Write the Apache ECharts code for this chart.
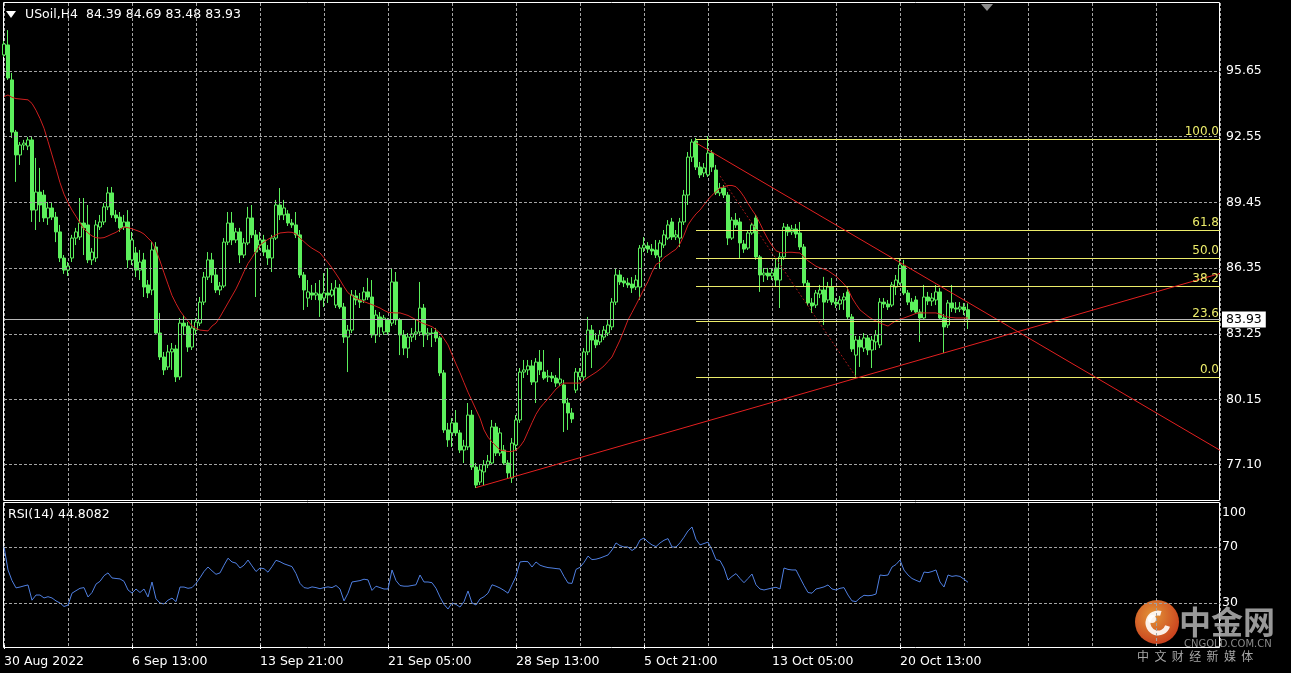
<!DOCTYPE html>
<html><head><meta charset="utf-8">
<script src="https://cdn.jsdelivr.net/npm/echarts@6.0.0/dist/echarts.min.js"></script>
<style>html,body{margin:0;padding:0;background:#000;overflow:hidden}#c{width:1291px;height:673px}</style>
</head><body><div id="c"></div>
<script>
const symbolTitle = 'USoil,H4  84.39 84.69 83.48 83.93';
const rsiTitle = 'RSI(14) 44.8082';
const tickLabels = ['30 Aug 2022','6 Sep 13:00','13 Sep 21:00','21 Sep 05:00','28 Sep 13:00','5 Oct 21:00','13 Oct 05:00','20 Oct 13:00'];
const barsPerLabel = 32;
const barsPerGrid = 16;
const totalSlots = 305;
const priceTicks = [95.65, 92.55, 89.45, 86.35, 83.25, 80.15, 77.10];
const rsiTicks = [100, 70, 30];
const rsiLevels = [70, 30];
const lastPrice = 83.93;
// [open, high, low, close]
const ohlc = [
[96.41,97.07,96.31,96.92],[96.88,97.58,95.23,95.32],[95.23,95.56,92.49,92.77],[92.77,92.87,90.42,91.69],[91.69,92.30,91.22,92.16],
[92.16,92.40,91.92,92.25],[92.11,92.54,91.92,92.40],[92.40,92.54,88.53,89.09],[89.09,91.55,88.15,89.94],[89.94,91.08,88.53,89.33],
[89.80,90.04,88.53,88.72],[88.72,89.47,88.39,89.19],[89.19,89.42,88.62,88.76],[88.76,89.00,87.58,88.06],[88.06,88.39,86.64,86.83],
[86.83,86.97,86.08,86.26],[86.26,86.64,85.98,86.45],[86.83,87.92,86.64,87.77],[87.77,88.25,87.44,88.06],[87.82,89.66,87.68,88.48],
[88.48,89.66,86.97,88.25],[88.39,89.33,86.59,86.74],[86.74,87.30,86.50,87.11],[86.83,88.62,86.64,88.39],[88.29,88.86,88.15,88.53],
[88.53,89.42,88.39,89.24],[89.24,90.18,89.09,89.90],[89.90,90.18,88.72,88.86],[88.86,89.09,88.53,88.72],[88.76,89.00,88.06,88.25],
[88.29,88.86,88.15,88.53],[88.53,89.09,86.36,86.74],[86.74,88.06,86.50,87.68],[87.07,87.35,85.93,86.26],[86.26,87.21,85.79,86.64],
[86.74,87.07,84.99,85.46],[85.56,85.79,84.94,85.18],[85.32,87.58,85.08,87.21],[87.35,87.58,83.20,83.29],[83.29,84.24,82.02,82.16],
[82.16,82.40,81.31,81.55],[81.69,82.73,81.55,82.40],[82.40,82.82,81.55,82.54],[82.54,82.73,80.98,81.22],[81.22,84.00,81.08,83.76],
[83.76,84.14,83.20,83.62],[83.62,83.81,82.40,82.63],[82.63,83.91,82.49,83.53],[83.43,84.00,83.20,83.81],[83.76,84.99,83.62,84.75],
[84.75,86.17,84.61,85.93],[85.93,87.11,85.79,86.74],[86.74,87.07,85.65,86.03],[86.03,86.36,85.18,85.32],[85.32,85.70,85.08,85.51],
[85.51,87.77,85.42,87.58],[87.58,89.00,87.44,88.48],[88.48,89.00,87.44,87.68],[87.68,88.25,87.54,88.06],[88.06,88.25,86.59,86.97],
[86.97,87.77,86.83,87.54],[87.54,89.24,87.44,88.72],[88.72,89.33,87.77,87.92],[87.92,88.15,84.99,87.11],[87.44,88.06,87.21,87.68],
[87.68,87.92,86.92,87.11],[87.21,87.44,86.50,86.83],[86.83,87.92,86.17,87.77],[87.77,89.57,87.68,89.33],[89.33,90.13,88.62,88.86],
[88.86,89.57,88.62,89.19],[88.91,89.09,88.34,88.48],[88.48,88.67,88.25,88.39],[88.39,89.00,87.77,87.92],[87.92,88.15,85.89,86.03],
[86.03,86.17,84.38,85.32],[84.94,85.79,84.52,85.23],[85.18,85.56,84.85,85.08],[85.08,85.65,84.85,85.18],[85.13,85.79,84.05,84.85],
[84.94,86.12,84.52,85.18],[85.18,86.36,84.71,85.08],[85.08,85.65,84.99,85.32],[84.61,85.79,84.47,85.42],[85.42,85.60,84.42,84.52],
[84.52,84.71,82.82,83.10],[83.10,83.67,81.45,83.43],[83.43,85.32,83.29,85.08],[85.04,85.32,84.61,84.85],[84.85,85.18,84.47,84.75],
[84.85,85.46,84.71,85.23],[85.23,85.89,84.85,84.99],[84.99,85.79,83.06,83.20],[83.20,84.38,82.82,84.14],[84.05,84.28,83.10,83.58],
[83.34,84.14,83.20,84.00],[83.91,84.00,83.20,83.34],[83.76,86.36,83.62,85.70],[85.70,86.17,83.67,83.91],[83.91,84.00,82.25,83.20],
[83.20,83.43,82.25,82.58],[82.58,83.29,82.11,83.10],[83.10,83.53,82.87,83.25],[83.25,83.91,82.96,83.34],[83.34,85.70,83.15,84.47],
[84.47,84.66,82.63,83.20],[83.20,83.53,82.96,83.29],[83.29,83.53,82.63,83.27],[83.34,83.53,82.87,83.06],[83.06,83.15,81.26,81.41],
[81.41,81.55,78.58,78.72],[78.72,79.05,77.92,78.25],[78.58,79.28,77.92,79.05],[79.05,79.66,78.43,78.58],[78.58,78.72,77.63,77.77],
[77.77,78.25,77.16,77.96],[77.92,79.99,77.77,79.42],[79.42,79.66,76.83,76.97],[76.97,77.16,75.98,76.12],[76.26,77.07,76.12,76.83],
[76.74,77.30,76.12,77.07],[77.07,77.54,76.92,77.25],[77.16,79.19,77.07,78.86],[78.86,79.05,77.49,77.63],[77.63,78.81,77.49,78.58],
[77.77,78.01,77.07,77.16],[77.16,77.30,76.45,76.69],[76.45,78.34,76.22,78.10],[78.01,79.42,77.77,79.19],[79.19,81.64,79.05,81.45],
[81.45,82.02,81.17,81.55],[81.55,82.02,81.31,81.74],[81.74,82.02,80.84,80.98],[80.98,82.11,79.99,81.92],[81.92,82.49,81.31,81.55],
[81.45,82.49,81.08,81.17],[81.22,81.55,80.98,81.26],[81.26,81.45,80.98,81.17],[81.17,81.31,80.75,80.93],[80.93,82.11,80.79,81.12],
[80.84,81.08,78.62,79.99],[79.99,80.23,78.72,79.52],[79.52,79.75,79.05,79.24],[80.60,81.64,80.46,81.45],[81.22,81.64,81.08,81.45],
[81.22,82.58,81.08,82.40],[82.40,84.05,82.25,83.43],[83.43,83.67,81.64,82.96],[82.96,83.29,82.58,82.73],[82.87,83.43,82.73,83.20],
[83.10,83.62,82.96,83.43],[83.29,83.91,83.15,83.67],[83.58,84.94,83.43,84.75],[84.75,86.36,84.61,86.03],[86.03,86.26,85.56,85.70],
[85.75,85.93,85.46,85.65],[85.65,85.89,85.42,85.56],[85.60,85.93,85.18,85.42],[85.46,86.03,85.32,85.79],[85.46,87.44,84.85,87.30],
[87.30,87.82,87.11,87.44],[87.40,87.58,87.07,87.25],[87.25,87.49,86.97,87.16],[87.21,87.68,86.83,86.97],[86.88,87.68,86.36,87.54],
[87.44,88.15,87.30,87.92],[87.77,88.62,87.68,88.39],[88.53,88.72,87.68,87.82],[87.82,88.15,87.68,87.92],[87.77,88.72,87.35,88.53],
[88.53,90.04,88.39,89.80],[89.80,91.83,89.33,91.59],[91.59,92.44,91.36,92.30],[92.35,92.49,90.98,91.12],[91.12,91.36,90.60,90.75],
[90.84,91.31,90.65,91.08],[90.75,92.58,90.65,91.78],[91.78,91.92,90.89,91.12],[90.98,91.22,89.80,89.90],[89.90,90.37,89.75,90.13],
[90.13,90.27,89.66,89.80],[89.80,89.94,87.44,87.77],[87.77,88.76,87.68,88.62],[88.62,88.95,88.25,88.39],[88.53,88.72,86.83,87.54],
[87.49,87.68,87.07,87.25],[87.30,88.15,87.21,88.01],[88.01,88.48,87.92,88.39],[88.72,88.86,86.74,86.88],[86.88,86.97,85.23,86.03],
[86.03,86.36,85.70,86.12],[86.12,86.36,85.79,85.98],[85.98,86.36,85.79,86.12],[86.36,86.83,85.46,85.79],[85.79,87.11,84.47,86.88],
[86.88,88.48,86.74,88.29],[88.29,88.43,87.87,88.06],[88.06,88.39,87.92,88.20],[88.20,88.43,87.77,87.96],[88.01,88.53,87.21,87.35],
[87.35,87.49,85.51,85.65],[85.65,85.79,84.57,84.71],[84.71,84.94,84.24,84.57],[84.61,85.32,84.47,85.18],[85.13,85.56,84.94,85.32],
[85.32,85.94,83.67,84.75],[84.85,85.70,84.71,85.46],[85.46,85.89,84.61,84.75],[84.75,84.94,84.47,84.66],[84.66,85.04,84.38,84.85],
[84.85,85.18,84.38,84.99],[85.23,85.46,83.91,84.05],[84.05,84.19,82.40,82.54],[82.25,83.15,81.22,82.96],[82.96,83.15,81.69,82.63],
[82.58,83.29,82.40,83.06],[83.06,83.20,82.25,82.49],[82.49,83.15,81.64,82.96],[82.87,83.43,82.49,83.20],[82.73,84.94,82.58,84.75],
[84.75,84.94,84.47,84.66],[84.66,84.85,84.38,84.52],[84.61,85.70,84.52,85.56],[85.46,86.03,85.08,85.79],[85.65,86.83,85.56,86.50],
[86.45,86.74,85.08,85.18],[85.18,85.32,84.61,84.75],[84.75,84.94,84.28,84.38],[84.85,85.04,84.19,84.28],[84.28,84.42,82.87,84.00],
[84.00,85.56,83.91,84.99],[84.99,85.23,84.61,84.80],[84.80,85.18,84.57,84.94],[84.85,85.56,84.61,85.23],[85.23,85.42,83.91,84.00],
[84.00,84.19,82.35,83.58],[83.67,84.85,83.53,84.71],[84.71,85.56,84.28,84.47],[84.47,84.75,84.24,84.42],[84.42,84.75,84.28,84.52],
[84.52,84.71,84.14,84.38],[84.39,84.69,83.48,83.93]
];
const ma = [
94.44,94.52,94.41,94.35,94.33,94.31,94.29,94.12,93.80,93.41,
92.95,92.33,91.69,91.05,90.38,89.84,89.44,89.09,88.79,88.48,
88.20,88.01,87.87,87.79,87.77,87.79,87.87,87.96,88.04,88.17,
88.29,88.26,88.21,88.14,88.07,87.96,87.77,87.58,87.21,86.69,
86.13,85.59,85.06,84.68,84.34,84.08,83.86,83.63,83.51,83.43,
83.41,83.39,83.62,83.76,84.05,84.38,84.71,85.04,85.37,85.77,
86.19,86.57,86.85,87.15,87.44,87.58,87.71,87.82,87.92,88.01,
88.03,88.05,88.04,87.96,87.77,87.60,87.43,87.29,87.18,87.07,
86.84,86.61,86.36,86.08,85.79,85.47,85.19,85.05,84.92,84.85,
84.77,84.70,84.63,84.55,84.47,84.36,84.27,84.25,84.24,84.24,
84.18,84.12,84.02,83.92,83.81,83.73,83.66,83.59,83.45,83.29,
83.02,82.73,82.27,81.83,81.41,80.95,80.50,80.09,79.68,79.28,
78.72,78.38,78.15,77.96,77.77,77.74,77.70,77.71,77.76,77.94,
78.21,78.64,79.06,79.46,79.76,79.98,80.19,80.42,80.65,80.81,
80.93,80.93,80.93,80.93,80.93,81.07,81.20,81.32,81.44,81.58,
81.74,81.95,82.16,82.56,82.96,83.43,83.91,84.26,84.62,84.99,
85.37,85.72,86.16,86.53,86.63,86.85,86.98,87.12,87.24,87.50,
87.91,88.39,88.67,88.91,89.09,89.34,89.58,89.79,89.96,90.13,
90.19,90.25,90.25,90.19,89.99,89.72,89.40,89.10,88.83,88.46,
88.06,87.71,87.42,87.17,87.09,87.07,87.10,87.10,87.08,87.07,
86.88,86.70,86.57,86.44,86.36,86.31,86.23,86.10,85.97,85.79,
85.60,85.36,84.95,84.65,84.38,84.23,84.08,83.95,83.86,83.76,
83.69,83.62,83.75,83.87,83.95,84.00,84.07,84.14,84.22,84.24,
84.24,84.24,84.24,84.24,84.18,84.10,84.04,84.02,84.00,84.00,
84.00,84.00
];
const rsi = [
70.2,53.6,46,40.8,41.4,42.2,42.9,32,35.7,35.7,
33.6,34.5,33.6,31.5,30.0,27.5,28.5,37,38.8,40.5,
41.0,34.3,37.5,43.5,45.5,49.5,51.5,47.9,47.5,47.2,
45.5,39.3,37.1,40,37.5,40,34.3,45,33,30,
29.3,32,33.5,31,41.4,41.4,40.5,41,44,48,
52.5,55.7,53,50.5,51.5,57,62,59.3,58.5,55,
57,60.7,56.5,52.5,55,54.5,52,56,60.5,59.5,
58,57,56,51,44,41,40.5,41.5,41,40.2,
41,41.5,41,42.5,40,31.5,37,45,45.5,46,
47,46.5,39,42,41,40,40,53.6,46,42.5,
42,42,42.5,43,50,45,45,44.5,40.5,34.3,
29,25.7,30,29,27.1,31,38.6,30,28.6,32.9,
34.5,37,43,42,40.7,39,37,43,49,59.3,
59.7,59.5,55.7,59.3,57,56,55.3,55,54.6,54.3,
49,44.3,44,54,55.5,59,63.5,61,61.3,62.1,
63.2,64.3,67.9,72.9,71,70,70,67.5,69.5,75,
76.4,73.6,71.5,70.3,72.9,74.8,76,70,70,73,
77,81.5,84.3,75.5,71.5,72.5,73.5,68,61,60.3,
55,46.4,49,51,47.5,44.5,47.5,50.7,43,40,
39.3,40,40.7,41.2,40,55,54,53.6,53.6,48,
42.5,37.5,37,40,40.7,41.5,42.9,40,39.3,40.5,
41,35.7,31.5,31,33.6,35.5,35.2,35.5,36.4,50,
49.6,50,55.7,57.5,60.7,53.5,50,47.5,46.2,45,
52.1,51.7,52.5,53.6,45,41.4,50,49,49.5,49,
47,44.8
];
// Fibonacci retracement anchors (bar index, price)
const fibStartBar = 173;
const fibHigh = 92.44;
const fibLow = 81.22;
const fibRatios = [100.0, 61.8, 50.0, 38.2, 23.6, 0.0];
// Trend lines: [barIndex, price] anchors
const trendLines = [
  {from: [118, 76.00], to: [304, 86.10], dotted: false},
  {from: [173, 92.26], to: [304, 77.76], dotted: false},
  {from: [179, 90.70], to: [213, 81.22], dotted: true}
];

const cats = Array.from({length: totalSlots}, (_, i) => String(i));
const GRID = '#a4a4a4';
const GREEN = '#5cf05c';
const RED = '#e42020';
const MARED = '#d01f1f';
const YEL = '#ecec6a';
const BLUE = '#4f7fe0';
const FONT = '"DejaVu Sans", Verdana, sans-serif';

const candleData = ohlc.map(r => [r[0], r[3], r[2], r[1]]);
const fibLines = fibRatios.map(r => {
  const lvl = fibLow + (fibHigh - fibLow) * r / 100;
  return [
    {coord: [String(fibStartBar), lvl], label: {show: true, position: 'insideEndTop', formatter: r.toFixed(1), color: YEL, fontSize: 12, fontFamily: FONT, distance: 1}},
    {coord: [String(totalSlots - 1), lvl]}
  ];
});
const tlLines = trendLines.map(t => [
  {coord: [String(t.from[0]), t.from[1]], lineStyle: {color: t.dotted ? '#a01818' : RED, type: t.dotted ? [2, 2] : 'solid', width: 1}},
  {coord: [String(t.to[0]), t.to[1]]}
]);

const labelIdx = (i) => i % barsPerLabel === 0 && i / barsPerLabel < tickLabels.length;
const gridIdx = (i) => i % barsPerGrid === 0;

const chart = echarts.init(document.getElementById('c'), null, {renderer: 'canvas'});
chart.setOption({
  backgroundColor: '#000',
  animation: false,
  grid: [
    {left: 4, top: 3, width: 1216, height: 497, show: false},
    {left: 4, top: 503, width: 1216, height: 144, show: false}
  ],
  xAxis: [
    {type: 'category', gridIndex: 0, data: cats, boundaryGap: false,
     axisLine: {show: false}, axisTick: {show: false}, axisLabel: {show: false},
     splitLine: {show: true, interval: gridIdx, lineStyle: {color: GRID, type: [3, 2], width: 1}}},
    {type: 'category', gridIndex: 1, data: cats, boundaryGap: false,
     axisLine: {show: false},
     axisTick: {show: true, interval: labelIdx, length: 4, lineStyle: {color: '#fff'}},
     axisLabel: {show: true, interval: labelIdx, formatter: (v, i) => tickLabels[i / barsPerLabel],
       align: 'left', color: '#fff', fontFamily: FONT, fontSize: 12.5, margin: 8},
     splitLine: {show: true, interval: gridIdx, lineStyle: {color: GRID, type: [3, 2], width: 1}}}
  ],
  yAxis: [
    {type: 'value', gridIndex: 0, position: 'right', min: 75.415, max: 98.858,
     axisLine: {show: false}, axisTick: {show: false}, splitLine: {show: false},
     axisLabel: {customValues: priceTicks, formatter: v => v.toFixed(2), color: '#fff', fontFamily: FONT, fontSize: 12.5, margin: 6}},
    {type: 'value', gridIndex: 1, position: 'right', min: -1.43, max: 101.43,
     axisLine: {show: false}, axisTick: {show: false}, splitLine: {show: false},
     axisLabel: {customValues: rsiTicks, formatter: v => v === 100 ? '\n100' : String(v), color: '#fff', fontFamily: FONT, fontSize: 12.5, margin: 2, lineHeight: 16}}
  ],
  series: [
    {type: 'line', xAxisIndex: 0, yAxisIndex: 0, data: [], z: 1, silent: true,
     markLine: {silent: true, symbol: ['none', 'none'], label: {show: false}, animation: false,
       lineStyle: {color: GRID, type: [3, 2], width: 1}, data: priceTicks.map(v => ({yAxis: v}))}},
    {type: 'line', xAxisIndex: 1, yAxisIndex: 1, data: [], z: 1, silent: true,
     markLine: {silent: true, symbol: ['none', 'none'], label: {show: false}, animation: false,
       lineStyle: {color: GRID, type: [3, 2], width: 1}, data: rsiLevels.map(v => ({yAxis: v}))}},
    {type: 'candlestick', xAxisIndex: 0, yAxisIndex: 0, data: candleData, barWidth: 3, z: 2, silent: true,
     itemStyle: {color: '#000', color0: GREEN, borderColor: GREEN, borderColor0: GREEN, borderWidth: 1}},
    {type: 'line', xAxisIndex: 0, yAxisIndex: 0, data: ma, symbol: 'none', z: 3, silent: true,
     lineStyle: {color: MARED, width: 1}},
    {type: 'line', xAxisIndex: 0, yAxisIndex: 0, data: [], z: 4, silent: true,
     markLine: {silent: true, symbol: ['none', 'none'], animation: false,
       label: {show: false},
       lineStyle: {color: YEL, type: 'solid', width: 1},
       data: [
         ...fibLines,
         ...tlLines,
         {yAxis: lastPrice, lineStyle: {color: '#b8b8b8', type: 'solid', width: 1},
          label: {show: true, position: 'end', formatter: lastPrice.toFixed(2), backgroundColor: '#fff', color: '#000',
                  padding: [2, 4, 1, 4], distance: 2, fontSize: 12.5, fontFamily: FONT}}
       ]}},
    {type: 'line', xAxisIndex: 1, yAxisIndex: 1, data: rsi, symbol: 'none', z: 3, silent: true,
     lineStyle: {color: BLUE, width: 1}}
  ],
  graphic: [
    {type: 'rect', shape: {x: 3.5, y: 2.5, width: 1216, height: 498}, style: {fill: null, stroke: '#fff', lineWidth: 1}, silent: true},
    {type: 'rect', shape: {x: 3.5, y: 502.5, width: 1216, height: 145}, style: {fill: null, stroke: '#fff', lineWidth: 1}, silent: true},
    {type: 'polygon', shape: {points: [[6, 11], [16, 11], [11, 18]]}, style: {fill: '#fff'}, silent: true},
    {type: 'text', x: 25, y: 15, style: {text: symbolTitle, fill: '#fff', font: '12.5px ' + FONT, align: 'left', verticalAlign: 'middle'}, silent: true},
    {type: 'text', x: 8, y: 515, style: {text: rsiTitle, fill: '#fff', font: '12.5px ' + FONT, align: 'left', verticalAlign: 'middle'}, silent: true},
    {type: 'polygon', shape: {points: [[981, 4], [993, 4], [987, 11]]}, style: {fill: '#8c8c8c'}, silent: true},
    {type: 'group', silent: true, children: [
      {type: 'circle', shape: {cx: 1157, cy: 622, r: 22},
       style: {fill: new echarts.graphic.RadialGradient(0.4, 0.35, 0.8, [{offset: 0, color: '#f7a23c'}, {offset: 1, color: '#d6361c'}]), opacity: 0.92}},
      {type: 'arc', shape: {cx: 1158, cy: 623, r: 10, startAngle: 0.3, endAngle: 5.0}, style: {stroke: '#fff', lineWidth: 5, fill: null, opacity: 0.9}},
      {type: 'circle', shape: {cx: 1152, cy: 619, r: 4}, style: {fill: '#fff', opacity: 0.9}},
      {type: 'text', x: 1179, y: 622, style: {text: '中金网', fill: '#a8a8a8', font: 'bold 32px "Noto Sans CJK SC"', align: 'left', verticalAlign: 'middle', opacity: 0.9}},
      {type: 'text', x: 1184, y: 644, style: {text: 'CNGOLD.COM.CN', fill: '#9a9a9a', font: '10px ' + FONT, align: 'left', verticalAlign: 'middle', opacity: 0.9}},
      {type: 'text', x: 1137, y: 656, style: {text: '中  文  财  经  新  媒  体', fill: '#b8b8b8', font: '12px "Noto Sans CJK SC"', align: 'left', verticalAlign: 'middle', opacity: 0.9}}
    ]}
  ]
});
</script></body></html>
